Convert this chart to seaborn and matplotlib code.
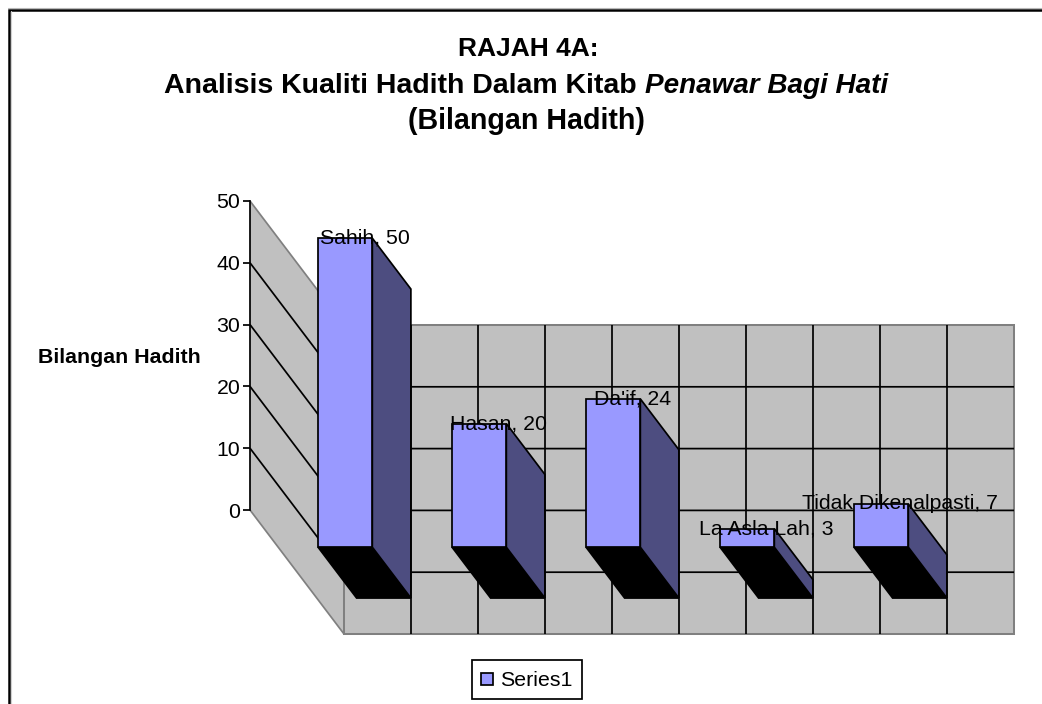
import matplotlib
matplotlib.use("Agg")
import matplotlib.pyplot as plt
from matplotlib.container import BarContainer
from matplotlib.legend_handler import HandlerPatch, update_from_first_child
from matplotlib.lines import Line2D
from matplotlib.patches import Polygon, Rectangle
from matplotlib.transforms import Affine2D
import pandas as pd
import seaborn as sns

categories = ["Sahih", "Hasan", "Da'if", "La Asla Lah", "Tidak Dikenalpasti"]
values = [50, 20, 24, 3, 7]
slots = [1, 3, 5, 7, 9]
value_ticks = [0, 10, 20, 30, 40, 50]
wall_slots = list(range(0, 11))
series_name = "Series1"

W, H = 1042, 704
X0, Y0 = 250.0, 510.0       # pixel of slot 0 / value 0 on the front plane
PX_SLOT, PX_VALUE = 67.0, 6.18
DEPTH_X, DEPTH_Y = 94.0, 124.0  # pixel shift across the whole depth
BAR_FRONT, BAR_BACK = 0.30, 0.71
LW = 1.25
GREY = "#C0C0C0"
EDGE = "#808080"
FRONT = "#9999FF"
SIDE = "#4D4D80"

sns.set_theme(style="white", rc={"font.family": ["Liberation Sans", "DejaVu Sans"], "text.color": "black"})
fig = plt.figure(figsize=(W / 100, H / 100), dpi=100, facecolor="white")
ax = fig.add_axes([0, 0, 1, 1])
ax.patch.set_alpha(0)

df = pd.DataFrame({"slot": slots, "value": values})
sns.barplot(data=df, x="slot", y="value", native_scale=True, width=0.405, color=FRONT,
            saturation=1, edgecolor="black", linewidth=LW, label=series_name, ax=ax, zorder=4)

ax.set_xlim(-X0 / PX_SLOT, (W - X0) / PX_SLOT)
ax.set_ylim((Y0 - H) / PX_VALUE, Y0 / PX_VALUE)


def shift(s, v, t):
    """slot/value at depth t (0 front, 1 back) -> data coordinates of the front plane"""
    return s + t * DEPTH_X / PX_SLOT, v - t * DEPTH_Y / PX_VALUE


def depth_transform(t):
    dx, dy = shift(0, 0, t)
    return Affine2D().translate(dx, dy) + ax.transData


# walls
v_lo, v_hi = value_ticks[0], value_ticks[-1]
s_lo, s_hi = wall_slots[0], wall_slots[-1]
left_wall = [shift(0, v_lo, 0), shift(0, v_hi, 0), shift(0, v_hi, 1), shift(0, v_lo, 1)]
ax.add_patch(Polygon(left_wall, closed=True, fc=GREY, ec="none", zorder=1))
back = [shift(s_lo, v_lo, 1), shift(s_hi, v_lo, 1), shift(s_hi, v_hi, 1), shift(s_lo, v_hi, 1)]
ax.add_patch(Polygon(back, closed=True, fc=GREY, ec=EDGE, lw=LW + 0.2, zorder=1, joinstyle="miter"))

for v in value_ticks:
    outer = v in (v_lo, v_hi)
    c, z = (EDGE, 1.6) if outer else ("black", 1.5)
    p = [shift(0, v, 0), shift(0, v, 1), shift(s_hi, v, 1)]
    if outer:
        p = p[:2]
    ax.plot(*zip(*p), color=c, lw=LW, zorder=z, solid_joinstyle="miter", solid_capstyle="butt")
for s in wall_slots[1:-1]:
    p = [shift(s, v_lo, 1), shift(s, v_hi, 1)]
    ax.plot(*zip(*p), color="black", lw=LW, zorder=1.5, solid_capstyle="butt")

# 3-D bar faces built on the bars seaborn drew
bars = [p for p in ax.patches if isinstance(p, Rectangle)]
for bar, s, v, name in zip(bars, slots, values, categories):
    bar.set_transform(depth_transform(BAR_FRONT))
    bar.set_joinstyle("miter")
    x0, x1 = bar.get_x(), bar.get_x() + bar.get_width()
    floor = [shift(x0, 0, BAR_FRONT), shift(x1, 0, BAR_FRONT), shift(x1, 0, BAR_BACK), shift(x0, 0, BAR_BACK)]
    ax.add_patch(Polygon(floor, closed=True, fc="black", ec="black", lw=LW, zorder=3))
    side = [shift(x1, v, BAR_FRONT), shift(x1, v, BAR_BACK), shift(x1, 0, BAR_BACK), shift(x1, 0, BAR_FRONT)]
    ax.add_patch(Polygon(side, closed=True, fc=SIDE, ec="black", lw=LW, zorder=3, joinstyle="miter"))
    lx = shift(s, 0, (BAR_FRONT + BAR_BACK) / 2)[0]
    ly = shift(0, v, BAR_FRONT)[1]
    ax.text(lx, ly, f"{name}, {v}", ha="center", va="center", fontsize=15.3, color="black", zorder=6)

# value axis
sns.despine(ax=ax, top=True, right=True, bottom=True, left=False)
ax.spines["left"].set_position(("data", 0))
ax.spines["left"].set_bounds(v_lo, v_hi)
ax.spines["left"].set_linewidth(LW)
ax.spines["left"].set_color("black")
ax.spines["left"].set_zorder(2)
ax.set_yticks(value_ticks)
ax.set_xticks([])
ax.set_xlabel("")
ax.set_ylabel("")
ax.tick_params(axis="y", left=True, direction="out", length=5, width=LW, color="black",
               labelsize=15.3, labelcolor="black", pad=2)


def fx(px):
    return px / W


def fy(py):
    return 1 - py / H


# outer chart frame with its faint grey rim
fig.add_artist(Line2D([fx(8), fx(W)], [fy(7.5), fy(7.5)], color="#B8B8B8", lw=0.8))
fig.add_artist(Line2D([fx(11), fx(11)], [fy(11), fy(H)], color="#D0D0D0", lw=0.8))
fig.add_artist(Rectangle((fx(9), -0.02), 1.1, 1.02 - 9.5 / H, transform=fig.transFigure,
                         fc="none", ec="black", lw=1.8))

# titles
title_kw = dict(color="black", fontweight="bold", va="baseline")
fig.text(fx(528), fy(56), "RAJAH 4A:", ha="center", fontsize=19, **title_kw)
fig.text(fx(644), fy(93), "Analisis Kualiti Hadith Dalam Kitab ", ha="right", fontsize=20.5, **title_kw)
fig.text(fx(645), fy(93), "Penawar Bagi Hati", ha="left", fontstyle="italic", fontsize=20.1, **title_kw)
fig.text(fx(526), fy(129), "(Bilangan Hadith)", ha="center", fontsize=20.6, **title_kw)
fig.text(fx(119.5), fy(363), "Bilangan Hadith", ha="center", color="black", va="baseline",
         fontsize=15.4, fontweight="bold")


# legend: a small swatch in a taller row, so the box keeps the reference's height
def swatch(legend, orig_handle, xdescent, ydescent, width, height, fontsize):
    side_pt = 8.6
    return Rectangle((-xdescent, -ydescent + (height - side_pt) / 2), width, side_pt)


h, l = ax.get_legend_handles_labels()
leg = ax.legend(h, l, loc="center", bbox_to_anchor=(527 / W, 1 - 679.5 / H), fontsize=15.4,
                frameon=True, fancybox=False, framealpha=1, edgecolor="black",
                handlelength=0.55, handleheight=1.08, handletextpad=0.35, borderpad=0.42,
                labelcolor="black",
                handler_map={BarContainer: HandlerPatch(patch_func=swatch,
                                                        update_func=update_from_first_child)})
leg.get_frame().set_linewidth(1.25)

fig.savefig("out.png", dpi=100, facecolor="white")
